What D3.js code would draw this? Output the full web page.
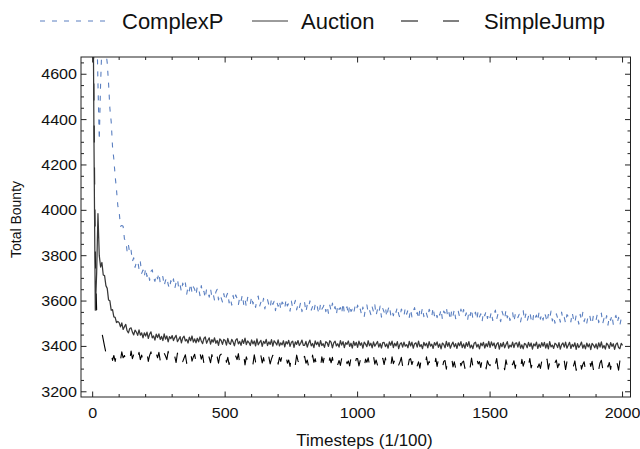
<!DOCTYPE html>
<html>
<head>
<meta charset="utf-8">
<script src="https://cdnjs.cloudflare.com/ajax/libs/d3/7.8.5/d3.min.js"></script>
<style>
	body { margin: 0; background: #fff; }
	svg { display: block; font-family: 'Liberation Sans', Arial, sans-serif; }
</style>
</head>
<body>
<svg id="chart" width="640" height="449"></svg>
<script>

// one value every 5 timesteps, 0 .. 2000
var aTimesteps = d3.range(0, 2001, 5);

var aComplexP = [
	5300,5150,5000,4850,4560,4310,4560,4730,4760,4720,4700,4650,4560,4450,4390,4280,4225,4150,4090,4020,
	3994,3930,3933,3930,3873,3869,3819,3848,3809,3824,3775,3791,3748,3771,3778,3741,3773,3722,3737,3708,
	3745,3708,3724,3691,3731,3738,3702,3687,3717,3698,3724,3680,3702,3708,3667,3691,3705,3673,3654,3690,
	3672,3698,3656,3682,3698,3654,3671,3641,3679,3659,3680,3630,3665,3645,3678,3636,3663,3652,3626,3665,
	3657,3624,3668,3633,3643,3612,3654,3641,3617,3654,3618,3631,3603,3640,3652,3605,3629,3614,3596,3633,
	3601,3622,3637,3592,3613,3582,3625,3600,3627,3612,3583,3616,3599,3628,3585,3610,3574,3617,3603,3586,
	3620,3587,3602,3572,3609,3622,3576,3595,3580,3612,3565,3598,3606,3583,3568,3612,3585,3599,3558,3596,
	3577,3603,3562,3596,3587,3567,3608,3578,3591,3555,3600,3568,3582,3603,3561,3586,3568,3594,3553,3583,
	3593,3552,3584,3571,3601,3560,3576,3553,3585,3594,3562,3543,3589,3564,3574,3589,3553,3579,3546,3582,
	3555,3591,3560,3576,3540,3583,3563,3571,3544,3592,3548,3567,3575,3539,3583,3554,3564,3544,3576,3558,
	3582,3553,3565,3539,3574,3532,3569,3583,3547,3560,3540,3574,3553,3583,3537,3564,3546,3578,3529,3567,
	3551,3573,3530,3562,3580,3539,3559,3535,3564,3550,3574,3542,3525,3565,3553,3535,3570,3542,3560,3528,
	3564,3530,3555,3571,3537,3550,3520,3564,3542,3571,3531,3557,3545,3524,3564,3550,3532,3572,3535,3553,
	3527,3555,3538,3564,3520,3556,3547,3573,3529,3549,3516,3558,3534,3564,3522,3543,3555,3529,3565,3537,
	3563,3529,3548,3514,3556,3536,3565,3521,3541,3551,3517,3556,3530,3544,3510,3552,3535,3557,3523,3547,
	3527,3553,3514,3542,3560,3520,3545,3529,3509,3555,3537,3520,3562,3526,3546,3514,3537,3551,3509,3541,
	3551,3527,3542,3508,3536,3558,3516,3543,3511,3533,3553,3519,3503,3546,3526,3538,3512,3554,3520,3544,
	3516,3550,3533,3507,3541,3521,3556,3512,3534,3502,3544,3525,3537,3507,3551,3517,3528,3502,3540,3532,
	3536,3508,3549,3519,3503,3539,3526,3498,3542,3514,3550,3509,3529,3503,3535,3543,3514,3498,3538,3520,
	3516,3544,3505,3529,3547,3501,3524,3508,3536,3494,3532,3515,3539,3497,3521,3537,3504,3528,3494,3524,
	3520
];

var aAuction = [
	5300,4300,3560,3720,3985,3800,3750,3770,3715,3712,3668,3656,3605,3601,3560,3562,3530,3528,3505,3510,
	3505,3486,3504,3475,3487,3497,3469,3460,3479,3482,3463,3451,3472,3463,3449,3473,3450,3460,3438,3460,
	3446,3463,3435,3454,3464,3438,3446,3428,3454,3439,3455,3431,3444,3426,3455,3432,3446,3420,3443,3434,
	3448,3426,3439,3449,3421,3431,3443,3416,3438,3445,3424,3431,3415,3441,3425,3446,3419,3433,3416,3436,
	3420,3442,3424,3412,3435,3442,3414,3427,3438,3410,3430,3419,3438,3414,3426,3405,3433,3426,3409,3431,
	3426,3406,3435,3415,3409,3431,3420,3403,3428,3434,3411,3422,3405,3430,3413,3437,3408,3424,3417,3404,
	3429,3411,3424,3402,3433,3407,3418,3427,3400,3422,3413,3431,3404,3420,3409,3430,3401,3425,3417,3406,
	3429,3402,3416,3407,3425,3398,3421,3411,3427,3400,3418,3423,3396,3420,3409,3426,3404,3414,3428,3405,
	3405,3422,3397,3415,3428,3402,3413,3395,3424,3408,3419,3399,3426,3404,3412,3396,3421,3416,3400,3425,
	3419,3394,3416,3423,3402,3412,3397,3426,3406,3421,3395,3417,3409,3424,3400,3414,3393,3422,3404,3418,
	3396,3423,3405,3416,3392,3419,3410,3399,3425,3403,3414,3394,3420,3401,3411,3422,3397,3413,3393,3417,
	3418,3399,3411,3392,3420,3405,3423,3395,3414,3402,3421,3390,3410,3416,3397,3419,3401,3408,3394,3422,
	3402,3419,3392,3412,3416,3397,3423,3399,3408,3390,3418,3403,3414,3394,3421,3401,3410,3391,3417,3405,
	3420,3396,3411,3389,3415,3409,3394,3422,3400,3417,3392,3408,3419,3398,3412,3391,3416,3403,3421,3395,
	3411,3392,3417,3400,3421,3394,3406,3390,3414,3419,3397,3409,3389,3415,3403,3418,3393,3412,3399,3422,
	3396,3420,3403,3415,3391,3410,3417,3388,3413,3399,3418,3394,3408,3421,3392,3406,3398,3419,3395,3414,
	3416,3397,3420,3392,3407,3389,3413,3409,3394,3418,3400,3415,3388,3411,3402,3419,3391,3410,3396,3417,
	3401,3418,3393,3412,3389,3421,3398,3406,3391,3414,3409,3395,3417,3388,3408,3415,3397,3419,3392,3405,
	3418,3391,3409,3399,3416,3387,3412,3395,3405,3419,3392,3407,3389,3415,3398,3411,3386,3413,3406,3394,
	3411,3389,3416,3397,3420,3393,3404,3388,3414,3407,3391,3417,3400,3412,3387,3409,3415,3395,3390,3413,
	3405
];

var aSimpleJump = [
	5300,4450,3800,3560,3530,3505,3480,3460,3430,3400,3372,3358,3370,3345,3372,3338,3360,3334,3368,3342,
	3368,3340,3376,3350,3360,3334,3370,3358,3338,3380,3346,3364,3330,3372,3352,3374,3342,3362,3336,3366,
	3346,3372,3334,3360,3376,3342,3356,3330,3368,3350,3374,3338,3364,3326,3370,3358,3342,3378,3336,3362,
	3367,3341,3355,3329,3371,3337,3359,3375,3333,3349,3363,3325,3369,3345,3373,3335,3353,3365,3331,3361,
	3336,3370,3344,3362,3324,3356,3332,3368,3350,3328,3364,3340,3374,3334,3354,3326,3360,3366,3320,3352,
	3362,3330,3352,3320,3356,3366,3338,3326,3358,3342,3368,3324,3348,3332,3364,3318,3354,3336,3360,3328,
	3347,3321,3363,3331,3355,3315,3343,3359,3327,3351,3319,3365,3335,3353,3323,3345,3361,3329,3317,3357,
	3322,3352,3334,3360,3316,3346,3356,3326,3340,3312,3358,3330,3350,3320,3362,3336,3324,3354,3318,3348,
	3356,3326,3340,3312,3352,3320,3362,3330,3346,3316,3348,3338,3308,3354,3328,3358,3322,3342,3318,3350,
	3328,3352,3312,3344,3358,3320,3338,3316,3348,3308,3342,3354,3324,3336,3314,3350,3330,3356,3318,3346,
	3346,3314,3338,3324,3354,3308,3344,3330,3350,3316,3336,3312,3358,3322,3340,3318,3352,3310,3334,3348,
	3320,3350,3314,3334,3344,3308,3354,3324,3340,3304,3346,3318,3332,3352,3312,3338,3326,3348,3310,3342,
	3346,3320,3338,3308,3350,3314,3332,3304,3344,3326,3340,3310,3354,3318,3334,3306,3342,3330,3312,3348,
	3312,3342,3322,3348,3306,3334,3338,3300,3344,3316,3328,3350,3310,3332,3304,3340,3318,3346,3314,3330,
	3335,3303,3343,3319,3339,3309,3349,3313,3329,3297,3345,3323,3333,3307,3341,3315,3347,3301,3337,3321,
	3315,3343,3305,3335,3321,3347,3301,3329,3309,3339,3325,3297,3341,3313,3345,3307,3331,3319,3337,3303,
	3337,3309,3325,3301,3343,3313,3333,3297,3339,3317,3347,3305,3327,3299,3331,3341,3307,3323,3303,3335,
	3308,3338,3314,3344,3300,3330,3318,3334,3294,3328,3340,3306,3324,3302,3342,3312,3336,3298,3332,3316,
	3338,3302,3326,3314,3336,3294,3330,3308,3342,3300,3320,3332,3296,3324,3306,3340,3312,3334,3298,3328,
	3311,3333,3297,3327,3339,3303,3321,3293,3335,3309,3329,3299,3343,3315,3301,3331,3323,3295,3337,3307,
	3320
];

var aXMajorTicks = [0, 500, 1000, 1500, 2000];
var aYMajorTicks = [3200, 3400, 3600, 3800, 4000, 4200, 4400, 4600];

var aSeries = [
	{ name: 'ComplexP', values: aComplexP, color: '#5a7fc0', dash: '5,7', width: 1.1 },
	{ name: 'Auction', values: aAuction, color: '#383838', dash: null, width: 1.25 },
	{ name: 'SimpleJump', values: aSimpleJump, color: '#000000', dash: '17,25', width: 1.1 }
];

var sSvg = d3.select('#chart');

var nLeft = 81, nRight = 630.5, nTop = 57, nBottom = 397;

var xScale = d3.scaleLinear().domain([-44, 2030]).range([nLeft, nRight]);
var yScale = d3.scaleLinear().domain([3177, 4676]).range([nBottom, nTop]);

sSvg.append('defs')
	.append('clipPath')
		.attr('id', 'plotclip')
		.append('rect')
			.attr('x', nLeft)
			.attr('y', nTop)
			.attr('width', nRight - nLeft)
			.attr('height', nBottom - nTop);

var lineGen = function(aValues)
{
	return d3.line()
		.x(function(d, i) { return xScale(aTimesteps[i]); })
		.y(function(d) { return yScale(d); })(aValues);
};

var sLines = sSvg.append('g').attr('clip-path', 'url(#plotclip)');

// draw order: ComplexP, SimpleJump, Auction on top
[aSeries[0], aSeries[2], aSeries[1]].forEach(function(series)
{
	sLines.append('path')
		.attr('d', lineGen(series.values))
		.attr('fill', 'none')
		.attr('stroke', series.color)
		.attr('stroke-width', series.width)
		.attr('stroke-linejoin', 'round')
		.attr('stroke-dasharray', series.dash);
});

// frame
sSvg.append('rect')
	.attr('x', nLeft)
	.attr('y', nTop)
	.attr('width', nRight - nLeft)
	.attr('height', nBottom - nTop)
	.attr('fill', 'none')
	.attr('stroke', '#222')
	.attr('stroke-width', 1);

var sTicks = sSvg.append('g').attr('stroke', '#222').attr('stroke-width', 1);

var aXMinor = d3.range(0, 2001, 100).filter(function(t) { return t % 500 != 0; });
var aYMinor = d3.range(3200, 4651, 50).filter(function(v) { return v % 200 != 0; });

function AddXTicks(aVals, nLen)
{
	aVals.forEach(function(t)
	{
		var x = xScale(t);
		sTicks.append('line').attr('x1', x).attr('x2', x).attr('y1', nBottom).attr('y2', nBottom - nLen);
		sTicks.append('line').attr('x1', x).attr('x2', x).attr('y1', nTop).attr('y2', nTop + nLen);
	});
}

function AddYTicks(aVals, nLen)
{
	aVals.forEach(function(v)
	{
		var y = yScale(v);
		sTicks.append('line').attr('x1', nLeft).attr('x2', nLeft + nLen).attr('y1', y).attr('y2', y);
		sTicks.append('line').attr('x1', nRight).attr('x2', nRight - nLen).attr('y1', y).attr('y2', y);
	});
}

AddXTicks(aXMajorTicks, 5.5);
AddXTicks(aXMinor, 3);
AddYTicks(aYMajorTicks, 5.5);
AddYTicks(aYMinor, 3);

// tick labels
sSvg.selectAll('.ylabel')
	.data(aYMajorTicks)
	.enter()
		.append('text')
			.attr('class', 'ylabel')
			.attr('transform', function(v) { return 'translate(77,' + (yScale(v) + 5) + ') scale(1.15,1)'; })
			.attr('text-anchor', 'end')
			.style('font-size', '14px')
			.attr('fill', '#111')
			.text(function(v) { return v; });

sSvg.selectAll('.xlabel')
	.data(aXMajorTicks)
	.enter()
		.append('text')
			.attr('class', 'xlabel')
			.attr('transform', function(t) { return 'translate(' + xScale(t) + ',418) scale(1.15,1)'; })
			.attr('text-anchor', 'middle')
			.style('font-size', '14px')
			.attr('fill', '#111')
			.text(function(t) { return t; });

// axis titles
sSvg.append('text')
	.attr('x', 364.5)
	.attr('y', 446)
	.attr('text-anchor', 'middle')
	.style('font-size', '17px')
	.attr('fill', '#111')
	.text('Timesteps (1/100)');

sSvg.append('text')
	.attr('transform', 'translate(21,219.5) rotate(-90)')
	.attr('text-anchor', 'middle')
	.style('font-size', '14px')
	.attr('fill', '#111')
	.text('Total Bounty');

// legend
var aLegend = [
	{ series: aSeries[0], x1: 40, x2: 106, tx: 122 },
	{ series: aSeries[1], x1: 252, x2: 288, tx: 301 },
	{ series: aSeries[2], x1: 401, x2: 459, tx: 484 }
];

aLegend.forEach(function(item)
{
	sSvg.append('line')
		.attr('x1', item.x1)
		.attr('x2', item.x2)
		.attr('y1', 21)
		.attr('y2', 21)
		.attr('stroke', item.series.color)
		.attr('stroke-width', 1)
		.attr('stroke-dasharray', item.series.dash);
	sSvg.append('text')
		.attr('x', item.tx)
		.attr('y', 29)
		.style('font-size', '22px')
		.attr('fill', '#111')
		.text(item.series.name);
});

</script>
</body>
</html>
